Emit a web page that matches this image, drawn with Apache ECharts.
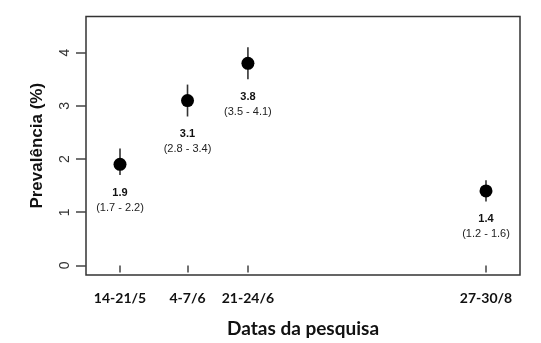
<!DOCTYPE html>
<html>
<head>
<meta charset="utf-8">
<script src="https://cdn.jsdelivr.net/npm/echarts@6/dist/echarts.min.js"></script>
<style>html,body{margin:0;padding:0;background:#fff}#c{width:541px;height:343px}</style>
</head>
<body>
<div id="c"></div>
<script>
// Survey dates (labels) and their midpoint, in days counted from 1 May
var categories = ['14-21/5', '4-7/6', '21-24/6', '27-30/8'];
var dayPositions = [16.5, 35.5, 52.5, 119.5];
var prevalence = [1.9, 3.1, 3.8, 1.4];
var ciLow = [1.7, 2.8, 3.5, 1.2];
var ciHigh = [2.2, 3.4, 4.1, 1.6];
var yTicks = [0, 1, 2, 3, 4];

var pointData = dayPositions.map(function (d, i) { return [d, prevalence[i]]; });
var barData = dayPositions.map(function (d, i) { return [d, ciLow[i], ciHigh[i], prevalence[i]]; });

var chart = echarts.init(document.getElementById('c'), null, {renderer: 'canvas'});
chart.setOption({
  animation: false,
  backgroundColor: '#fff',
  grid: {left: 86, right: 21, top: 16.5, bottom: 66.7, show: true, borderColor: '#333', borderWidth: 1.5, backgroundColor: 'transparent'},
  xAxis: {
    type: 'value', min: 6.93, max: 129.07,
    splitLine: {show: false},
    axisLine: {show: false},
    axisTick: {show: true, length: 7, customValues: dayPositions, lineStyle: {color: '#444', width: 1.5}},
    axisLabel: {
      customValues: dayPositions, margin: 16,
      fontFamily: 'Lato', fontWeight: 'bold', fontSize: 14, color: '#111',
      formatter: function (v) { var i = dayPositions.indexOf(v); return i >= 0 ? categories[i] : ''; }
    },
    name: 'Datas da pesquisa', nameLocation: 'middle', nameGap: 44,
    nameTextStyle: {fontFamily: 'Lato', fontWeight: 'bold', fontSize: 19, color: '#111'}
  },
  yAxis: {
    type: 'value', min: -0.18, max: 4.68,
    splitLine: {show: false},
    axisLine: {show: false},
    axisTick: {show: true, length: 10, customValues: yTicks, lineStyle: {color: '#444', width: 1.5}},
    axisLabel: {customValues: yTicks, rotate: 90, margin: 14, fontFamily: 'Liberation Sans', fontSize: 14, color: '#333'},
    name: 'Prevalência (%)', nameLocation: 'middle', nameGap: 40,
    nameTextStyle: {fontFamily: 'Liberation Sans', fontWeight: 'bold', fontSize: 17, color: '#111'}
  },
  series: [
    {
      type: 'custom', data: barData, z: 2,
      renderItem: function (params, api) {
        var x = api.value(0);
        var lo = api.coord([x, api.value(1)]);
        var hi = api.coord([x, api.value(2)]);
        var v = api.value(3), l = api.value(1), h = api.value(2);
        return {
          type: 'group',
          children: [
            {type: 'line', shape: {x1: lo[0], y1: lo[1], x2: hi[0], y2: hi[1]}, style: {stroke: '#333', lineWidth: 1.6}},
            {type: 'text', style: {text: v.toFixed(1), x: lo[0], y: lo[1] + 17.7, align: 'center', verticalAlign: 'middle', font: 'bold 11px "Liberation Sans"', fill: '#111'}},
            {type: 'text', style: {text: '(' + l.toFixed(1) + ' - ' + h.toFixed(1) + ')', x: lo[0], y: lo[1] + 32.8, align: 'center', verticalAlign: 'middle', font: '11px "Liberation Sans"', fill: '#222'}}
          ]
        };
      }
    },
    {
      type: 'scatter', data: pointData, z: 3,
      symbol: 'circle', symbolSize: 13,
      itemStyle: {color: '#000', opacity: 1}
    }
  ]
});
</script>
</body>
</html>
